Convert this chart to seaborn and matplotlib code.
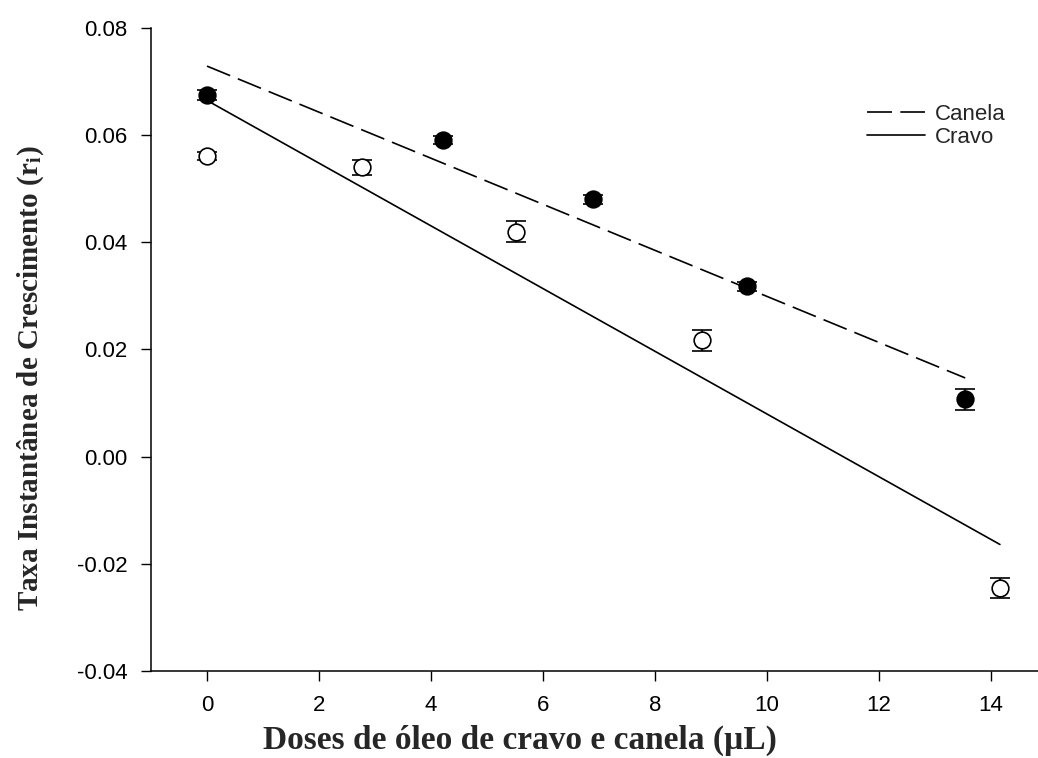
import numpy as np
import pandas as pd
import seaborn as sns
import matplotlib.pyplot as plt

# growth rate vs dose
canela_dose = [0.0, 4.21, 6.89, 9.64, 13.54]
canela_rate = [0.0675, 0.0591, 0.0480, 0.0318, 0.0107]
canela_err = [0.0010, 0.0008, 0.0008, 0.0008, 0.0019]

cravo_dose = [0.0, 2.77, 5.52, 8.84, 14.16]
cravo_rate = [0.0561, 0.0540, 0.0420, 0.0217, -0.0245]
cravo_err = [0.0008, 0.0014, 0.0019, 0.0019, 0.0018]

y_ticks = [-0.04, -0.02, 0.00, 0.02, 0.04, 0.06, 0.08]
x_ticks = [0, 2, 4, 6, 8, 10, 12, 14]

sns.set_style("ticks")
plt.rcParams["font.family"] = ["Liberation Sans", "DejaVu Sans"]
plt.rcParams["mathtext.fontset"] = "stix"

canela_df = pd.DataFrame({"dose": canela_dose, "rate": canela_rate})
cravo_df = pd.DataFrame({"dose": cravo_dose, "rate": cravo_rate})

fig = plt.figure(figsize=(10.38, 7.58), dpi=100)
ax = fig.add_axes([151 / 1038, 87 / 758, 887 / 1038, 643 / 758])

# fitted lines
sns.regplot(data=canela_df, x="dose", y="rate", ax=ax, scatter=False, ci=None,
            label="Canela", line_kws={"color": "black", "lw": 1.2, "dashes": (15, 5)})
sns.regplot(data=cravo_df, x="dose", y="rate", ax=ax, scatter=False, ci=None,
            label="Cravo", line_kws={"color": "black", "lw": 1.2})

# points with error bars
ax.errorbar(canela_dose, canela_rate, yerr=canela_err, fmt="o", ms=12,
            mfc="black", mec="black", mew=1.2, ecolor="black", elinewidth=1.2,
            capsize=7, capthick=1.3, zorder=4)
ax.errorbar(cravo_dose, cravo_rate, yerr=cravo_err, fmt="o", ms=12,
            mfc="white", mec="black", mew=1.2, ecolor="black", elinewidth=1.2,
            capsize=7, capthick=1.3, zorder=4)

ax.set_xlim(-1, 14.84)
ax.set_ylim(-0.04, 0.08)
ax.set_xticks(x_ticks)
ax.set_yticks(y_ticks)
ax.set_yticklabels([f"{v:.2f}" for v in y_ticks])
ax.tick_params(direction="out", length=7, width=1, labelsize=16, pad=10, colors="black")
for side in ["left", "bottom"]:
    ax.spines[side].set_linewidth(1.1)
    ax.spines[side].set_color("black")
sns.despine(ax=ax)

ax.set_xlabel("Doses de óleo de cravo e canela (µL)",
              fontdict={"family": "Liberation Serif", "weight": "bold", "size": 24})
ax.set_ylabel(r"Taxa Instantânea de Crescimento (r$_\mathbf{i}$)",
              fontdict={"family": "Liberation Serif", "weight": "bold", "size": 21})
ax.xaxis.set_label_coords(0.416, -0.083)
ax.yaxis.set_label_coords(-0.118, 0.455)

handles, labels = ax.get_legend_handles_labels()
ax.legend(handles[:2], labels[:2], loc="upper left", frameon=False, fontsize=16,
          handlelength=2.6, bbox_to_anchor=(847 / 1038, 674 / 758),
          bbox_transform=fig.transFigure, labelspacing=0.1, handletextpad=0.45)

fig.savefig("out.png", dpi=100)
